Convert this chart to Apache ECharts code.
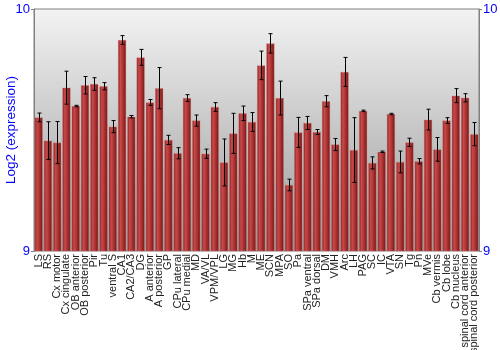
<!DOCTYPE html>
<html><head><meta charset="utf-8">
<script src="https://cdn.jsdelivr.net/npm/echarts@6/dist/echarts.min.js"></script>
<style>html,body{margin:0;padding:0;background:#fff}#c{width:500px;height:350px}</style>
</head><body><div id="c"></div>
<script>
const categories = ["LS","RS","Cx motor","Cx cingulate","OB anterior","OB posterior","Pir","Tu","ventral S","CA1","CA2/CA3","DG","A anterior","A posterior","GP","CPu lateral","CPu medial","MD","VA/VL","VPM/VPL","LG","MG","Hb","M","ME","SCN","MPA","SO","Pa","SPa ventral","SPa dorsal","DM","VMH","Arc","LH","PAG","SC","IC","VTA","SN","Tg","Pn","MVe","Cb vermis","Cb lobe","Cb nucleus","spinal cord anterior","spinal cord posterior"];
const values = [9.552,9.456,9.448,9.675,9.599,9.685,9.690,9.681,9.514,9.872,9.555,9.800,9.614,9.673,9.459,9.404,9.632,9.539,9.402,9.595,9.366,9.486,9.569,9.533,9.767,9.858,9.632,9.273,9.490,9.529,9.492,9.619,9.440,9.740,9.417,9.579,9.364,9.410,9.566,9.368,9.449,9.371,9.543,9.420,9.539,9.642,9.633,9.483];
const errors = [0.018,0.078,0.087,0.068,0.003,0.036,0.026,0.015,0.025,0.018,0.005,0.033,0.012,0.085,0.019,0.023,0.014,0.023,0.019,0.018,0.097,0.083,0.030,0.039,0.059,0.040,0.070,0.024,0.062,0.027,0.010,0.023,0.025,0.060,0.134,0.003,0.025,0.003,0.003,0.045,0.017,0.011,0.043,0.049,0.012,0.029,0.017,0.048];
const yTicks = [9, 10];

const chart = echarts.init(document.getElementById('c'), null, {renderer:'canvas'});
const barColor = new echarts.graphic.LinearGradient(0,0,1,0,[
  {offset:0,color:'#801e1e'},{offset:0.3,color:'#c84a4a'},{offset:0.6,color:'#ae3232'},{offset:1,color:'#6e1616'}]);
chart.setOption({
  animation:false,
  grid:{left:34,right:21,top:9,bottom:99,show:true,borderColor:'#808080',borderWidth:1,
    containLabel:false,outerBoundsMode:'none',
    backgroundColor:new echarts.graphic.LinearGradient(0,0,0,1,[{offset:0,color:'#f3f3f3'},{offset:1,color:'#9a9a9a'}])},
  xAxis:{type:'category',data:categories,
    axisLine:{show:false},axisTick:{show:false},
    axisLabel:{rotate:90,interval:0,fontSize:11,color:'#222',fontFamily:'Liberation Sans, Arial',margin:3,hideOverlap:false}},
  yAxis:[{type:'value',min:yTicks[0],max:yTicks[1],interval:1,
    name:'Log2 (expression)',nameLocation:'middle',nameGap:16,nameMoveOverlap:false,
    nameTextStyle:{color:'#0000ff',fontSize:13.5,fontFamily:'Liberation Sans, Arial'},
    axisLine:{show:true,lineStyle:{color:'#808080'}},axisTick:{show:true,length:3,lineStyle:{color:'#808080'}},
    splitLine:{show:false},
    axisLabel:{color:'#0000ff',fontSize:13,fontFamily:'Liberation Sans, Arial',margin:4}},
   {type:'value',min:yTicks[0],max:yTicks[1],interval:1,position:'right',
    axisLine:{show:true,lineStyle:{color:'#808080'}},axisTick:{show:true,length:3,lineStyle:{color:'#808080'}},
    splitLine:{show:false},
    axisLabel:{color:'#0000ff',fontSize:13,fontFamily:'Liberation Sans, Arial',margin:4}}],
  series:[
    {type:'bar',data:values,barCategoryGap:'12%',
     itemStyle:{color:barColor,borderColor:'rgba(220,120,120,0.6)',borderWidth:0.6}},
    {type:'custom',data:values.map((v,i)=>[i,v-errors[i],v+errors[i]]),z:10,
     renderItem:function(params,api){
       const lo=api.coord([api.value(0),api.value(1)]);
       const hi=api.coord([api.value(0),api.value(2)]);
       const x=Math.round(lo[0])+0.5, w=2;
       const st={stroke:'#000',lineWidth:1};
       return {type:'group',children:[
         {type:'line',shape:{x1:x,y1:lo[1],x2:x,y2:hi[1]},style:st},
         {type:'line',shape:{x1:x-w,y1:lo[1],x2:x+w,y2:lo[1]},style:st},
         {type:'line',shape:{x1:x-w,y1:hi[1],x2:x+w,y2:hi[1]},style:st}]};
     }}
  ]
});
</script></body></html>
